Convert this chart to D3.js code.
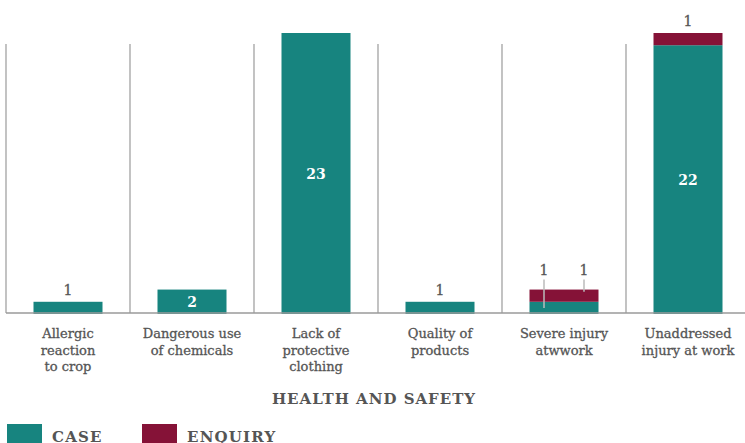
<!DOCTYPE html>
<html>
<head>
<meta charset="utf-8">
<script src="https://d3js.org/d3.v7.min.js"></script>
<style>
  body { margin: 0; background: #fff; }
  text { font-family: "DejaVu Serif", serif; fill: #555; }
  .cat { font-size: 13px; stroke: #555; stroke-width: 0.3px; }
  .val { font-size: 14px; stroke: #555; stroke-width: 0.3px; }
  .val.inside { font-weight: bold; stroke: none; }
  .title { font-size: 15px; font-weight: bold; letter-spacing: 1px; }
  .leg { font-size: 15px; font-weight: bold; letter-spacing: 1.2px; }
</style>
</head>
<body>
<script>
var categories = ["Allergic\nreaction\nto crop", "Dangerous use\nof chemicals", "Lack of\nprotective\nclothing",
                  "Quality of\nproducts", "Severe injury\natwwork", "Unaddressed\ninjury at work"];
var caseValues = [1, 2, 23, 1, 1, 22];
var enquiryValues = [0, 0, 0, 0, 1, 1];
var seriesNames = ["CASE", "ENQUIRY"];
var colors = ["#17847f", "#851237"];

var W = 745, H = 443;
var svg = d3.select("body").append("svg").attr("width", W).attr("height", H);

var x = d3.scaleBand().domain(categories).range([6, 750]).paddingInner(0).paddingOuter(0);
var barW = 69;
var y = d3.scaleLinear().domain([0, 23]).range([314, 33]);

// separators between categories
svg.selectAll(".sep").data(categories).enter().append("line")
  .attr("x1", function(d) { return x(d); }).attr("x2", function(d) { return x(d); })
  .attr("y1", 44).attr("y2", 313)
  .attr("stroke", "#9a9a9a").attr("stroke-width", 1.2);

var rows = categories.map(function(c, i) { return { cat: c, CASE: caseValues[i], ENQUIRY: enquiryValues[i] }; });
var stacked = d3.stack().keys(seriesNames)(rows);

var layers = svg.selectAll(".layer").data(stacked).enter().append("g")
  .attr("fill", function(d, i) { return colors[i]; });
layers.selectAll("rect").data(function(d) { return d; }).enter().append("rect")
  .attr("x", function(d) { return x(d.data.cat) + (x.bandwidth() - barW) / 2; })
  .attr("width", barW)
  .attr("y", function(d) { return y(d[1]); })
  .attr("height", function(d) { return y(d[0]) - y(d[1]); });

// value labels
rows.forEach(function(r, i) {
  var cx = x(r.cat) + x.bandwidth() / 2;
  var segs = [];
  var base = 0;
  seriesNames.forEach(function(k) {
    if (r[k] > 0) segs.push({ v: r[k], y0: base, y1: base + r[k] });
    base += r[k];
  });
  var small = segs.filter(function(s) { return y(s.y0) - y(s.y1) < 20; });
  segs.forEach(function(s) {
    if (y(s.y0) - y(s.y1) >= 20) {
      svg.append("text").attr("class", "val inside").attr("x", cx).attr("y", (y(s.y0) + y(s.y1)) / 2 + 5)
        .attr("text-anchor", "middle").style("fill", "#fff").text(s.v);
    }
  });
  if (small.length === 1) {
    var s = small[0];
    svg.append("text").attr("class", "val").attr("x", cx).attr("y", y(base) - 7)
      .attr("text-anchor", "middle").text(s.v);
  } else if (small.length > 1) {
    small.forEach(function(s, j) {
      var lx = cx + (j === 0 ? -20 : 20);
      svg.append("line").attr("x1", lx).attr("x2", lx)
        .attr("y1", y(base) - 10).attr("y2", (y(s.y0) + y(s.y1)) / 2 + (j === 0 ? 0 : -4))
        .attr("stroke", "#bbb").attr("stroke-width", 1.5);
      svg.append("text").attr("class", "val").attr("x", lx).attr("y", y(base) - 15)
        .attr("text-anchor", "middle").text(s.v);
    });
  }
});

// baseline
svg.append("line").attr("x1", 6).attr("x2", W).attr("y1", 313).attr("y2", 313)
  .attr("stroke", "#9a9a9a").attr("stroke-width", 1.5);

// category labels
svg.selectAll(".cat").data(categories).enter().append("text")
  .attr("class", "cat").attr("text-anchor", "middle")
  .attr("x", function(d) { return x(d) + x.bandwidth() / 2; })
  .attr("y", 338)
  .each(function(d) {
    var t = d3.select(this);
    d.split("\n").forEach(function(line, k) {
      t.append("tspan").attr("x", t.attr("x")).attr("dy", k === 0 ? 0 : 16.5).text(line);
    });
  });

svg.append("text").attr("class", "title").attr("x", 374).attr("y", 404)
  .attr("text-anchor", "middle").text("HEALTH AND SAFETY");

// legend
var leg = svg.selectAll(".legitem").data(seriesNames).enter().append("g")
  .attr("transform", function(d, i) { return "translate(" + (7 + i * 135) + ",424)"; });
leg.append("rect").attr("width", 35).attr("height", 20).attr("fill", function(d, i) { return colors[i]; });
leg.append("text").attr("class", "leg").attr("x", 45).attr("y", 18).text(function(d) { return d; });
</script>
</body>
</html>
